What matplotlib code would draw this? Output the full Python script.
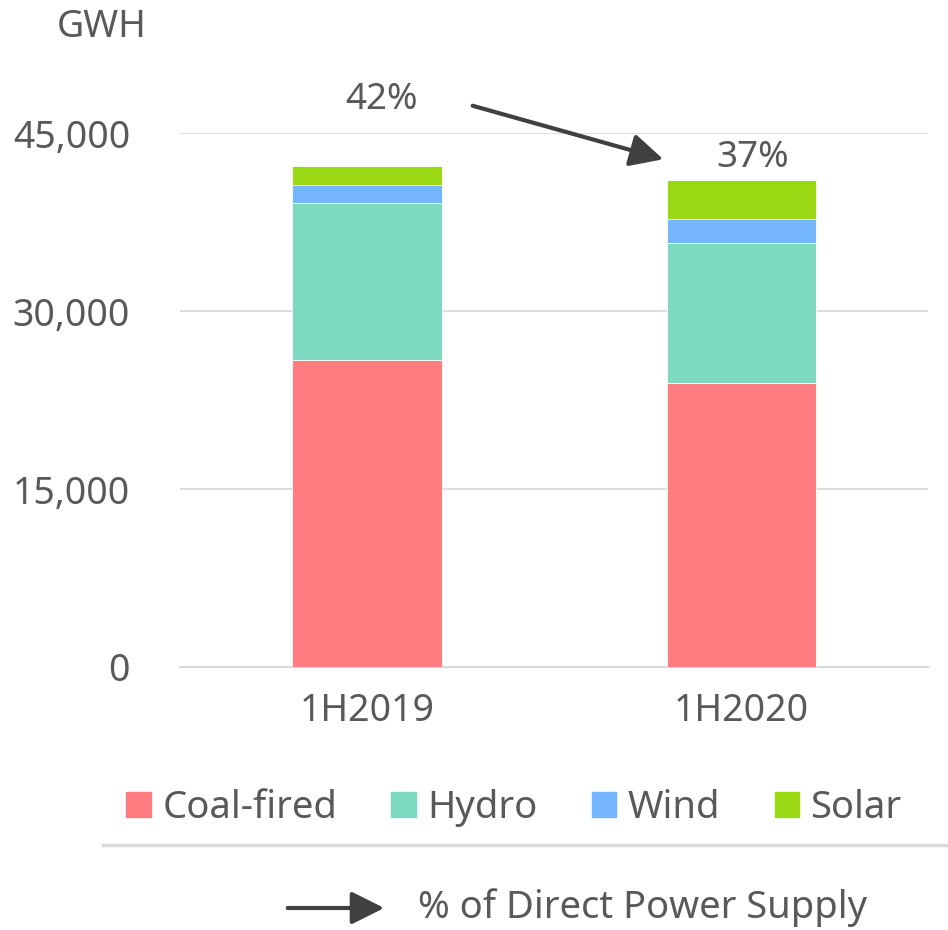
import numpy as np
import matplotlib
matplotlib.use("Agg")
import matplotlib.pyplot as plt
from matplotlib.patches import Rectangle, FancyArrowPatch

plt.rcParams["font.family"] = ["Noto Sans", "DejaVu Sans"]

periods = ["1H2019", "1H2020"]
sources = ["Coal-fired", "Hydro", "Wind", "Solar"]
coalFired = [25900, 23900]
hydro = [13200, 11800]
wind = [1550, 2050]
solar = [1600, 3300]
directShare = ["42%", "37%"]
yTicks = [0, 15000, 30000, 45000]

colors = ["#FF7C80", "#7DD9C0", "#75B5FF", "#9AD813"]
textColor = "#595959"
gridColor = "#D9D9D9"

fig = plt.figure(figsize=(9.48, 9.30), dpi=100)
ax = fig.add_axes([0.19, 0.2828, 0.7894, 0.574])

x = np.arange(len(periods))
bottom = np.zeros(len(periods))
for values, color, name in zip([coalFired, hydro, wind, solar], colors, sources):
    ax.bar(x, values, width=0.4, bottom=bottom, color=color, edgecolor="white", linewidth=0.6, label=name, zorder=3)
    bottom = bottom + np.array(values)

ax.set_xlim(-0.5, 1.5)
ax.set_ylim(0, 45000)
ax.set_yticks(yTicks)
ax.set_yticklabels(["{:,}".format(t) for t in yTicks])
ax.set_xticks(x)
ax.set_xticklabels(periods)
ax.tick_params(axis="both", length=0, labelsize=27, colors=textColor)
ax.tick_params(axis="y", pad=36)
ax.tick_params(axis="x", pad=18)
ax.grid(axis="y", color=gridColor, linewidth=1.2, zorder=0)
for side in ["top", "right", "left"]:
    ax.spines[side].set_visible(False)
ax.spines["bottom"].set_color(gridColor)
ax.spines["bottom"].set_linewidth(1.5)

fig.text(57 / 948, 1 - 27 / 930, "GWH", fontsize=27, color=textColor, va="center", ha="left")

# share labels and arrow
fig.text(381 / 948, 1 - 100 / 930, directShare[0], fontsize=26.5, color=textColor, ha="center", va="center")
fig.text(753 / 948, 1 - 158 / 930, directShare[1], fontsize=26.5, color=textColor, ha="center", va="center")
fig.add_artist(FancyArrowPatch((470 / 948, 1 - 105 / 930), (666 / 948, 1 - 160 / 930),
               transform=fig.transFigure, arrowstyle="-|>,head_length=10,head_width=5", color="#404040",
               linewidth=3, mutation_scale=2))

handles = [Rectangle((0, 0), 1, 1, color=c) for c in colors]
fig.legend(handles, sources, loc="center", bbox_to_anchor=(514 / 948, 1 - 808 / 930), ncol=4, frameon=False,
           fontsize=27.5, labelcolor=textColor, handlelength=0.63, handleheight=0.63, handletextpad=0.31,
           columnspacing=1.42)
fig.add_artist(plt.Line2D([103 / 948, 1.0], [1 - 845 / 930, 1 - 845 / 930], transform=fig.transFigure,
               color=gridColor, linewidth=2.5))

fig.add_artist(FancyArrowPatch((285 / 948, 1 - 908 / 930), (387 / 948, 1 - 908 / 930),
               transform=fig.transFigure, arrowstyle="-|>,head_length=10,head_width=5", color="#404040",
               linewidth=3, mutation_scale=2))
fig.text(418 / 948, 1 - 908 / 930, "% of Direct Power Supply", fontsize=27.5, color=textColor, ha="left",
         va="center")

fig.savefig("out.png", dpi=100)
